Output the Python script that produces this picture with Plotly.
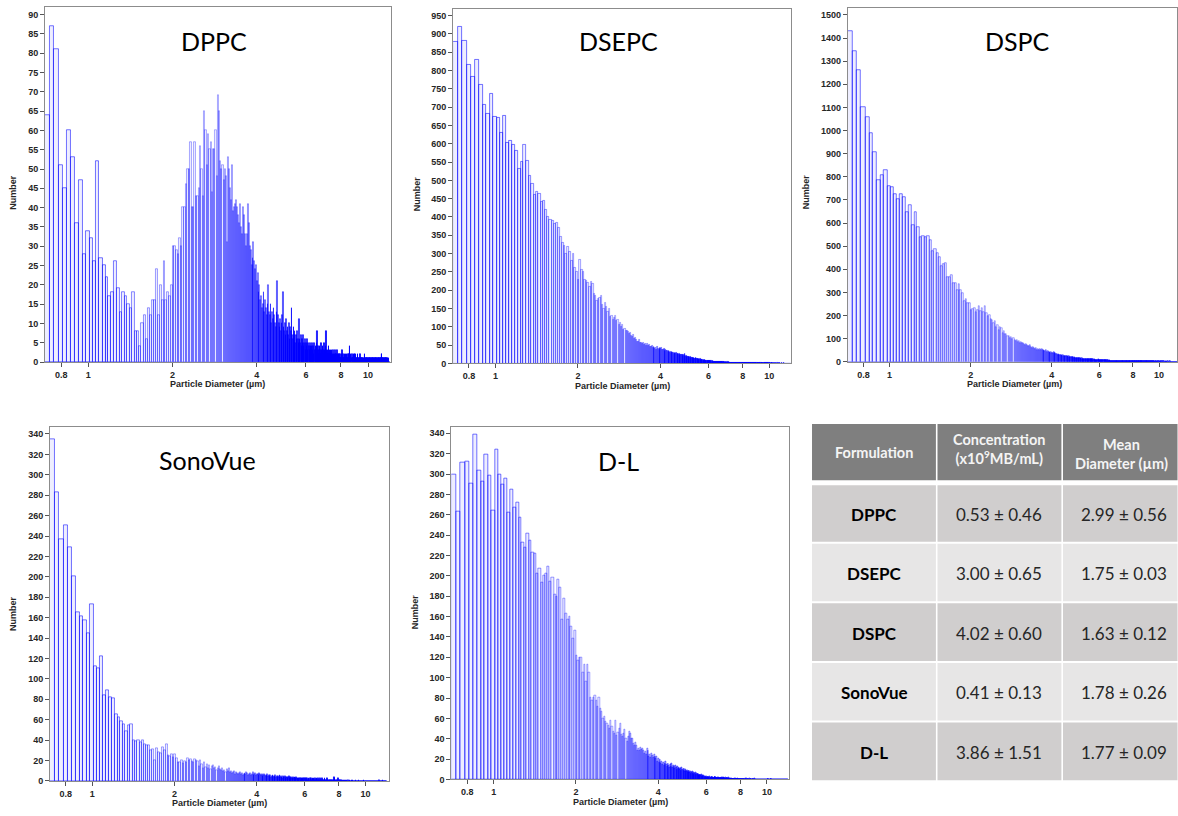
import math
import plotly.graph_objects as go

W, H = 1178, 816

# Coulter-counter style linear bins in particle diameter (µm)
BIN_START = 0.70
BIN_WIDTH = 0.02825

panel_names = ["DPPC", "DSEPC", "DSPC", "SonoVue", "D-L"]
x_tick_vals = [0.8, 1, 2, 4, 6, 8, 10]
x_tick_text = ["0.8", "1", "2", "4", "6", "8", "10"]

dppc_counts = [
    64, 87, 81, 51, 45, 60, 53, 36, 47, 28, 34, 32, 26, 52, 27, 25, 22, 17, 18, 26,
    19, 13, 18, 17, 15, 14, 18, 8, 8, 4, 10, 12, 6, 14, 12, 16, 16, 24, 12, 20,
    16, 26, 16, 18, 17, 20, 30, 30, 29, 28, 32, 30, 40, 40, 46, 50, 50, 57, 40, 40,
    57, 43, 43, 45, 56, 50, 43, 65, 60, 51, 59, 55, 57, 44, 55, 55, 60, 48, 69, 65,
    52, 50, 51, 47, 50, 48, 31, 53, 50, 45, 42, 51, 39, 40, 41, 42, 40, 38, 36, 41,
    35, 33, 40, 38, 33, 30, 33, 41, 36, 30, 29, 25, 27, 31, 26, 24, 25, 21, 23, 18,
    20, 16, 17, 14, 15, 18, 13, 16, 14, 12, 15, 20, 13, 12, 15, 10, 13, 11, 14, 12,
    10, 9, 13, 21, 12, 10, 9, 11, 8, 10, 12, 18, 9, 8, 10, 7, 11, 8, 9, 7,
    10, 6, 9, 8, 14, 7, 6, 9, 7, 8, 5, 7, 6, 8, 6, 5, 11, 6, 5, 7,
    4, 6, 5, 7, 4, 5, 6, 3, 5, 4, 6, 3, 5, 4, 3, 5, 4, 3, 4, 5,
    3, 4, 2, 5, 3, 4, 3, 5, 8, 3, 4, 2, 3, 4, 3, 2, 5, 3, 2, 4,
    3, 2, 5, 3, 2, 4, 8, 3, 2, 3, 2, 4, 2, 3, 2, 1, 3, 2, 3, 1,
    2, 3, 2, 1, 2, 3, 1, 2, 2, 1, 3, 2, 1, 2, 1, 2, 1, 2, 1, 1,
    2, 1, 3, 1, 2, 1, 1, 2, 1, 1, 2, 1, 0, 2, 1, 1, 2, 1, 1, 2,
    4, 1, 1, 2, 1, 0, 2, 1, 1, 1, 2, 1, 2, 2, 1, 0, 2, 1, 1, 1,
    1, 2, 1, 0, 1, 1, 1, 2, 1, 0, 1, 1, 1, 1, 0, 1, 1, 1, 0, 1,
    2, 1, 1, 0, 1, 1, 1, 1, 0, 1, 1, 1, 0, 1, 1, 1, 1, 0, 1, 1,
    1, 0, 1, 1, 1, 1, 0, 1, 1, 1, 0, 1, 1, 1, 1, 0, 1, 1, 1, 1,
    0, 1, 1, 1, 1, 1, 0, 1, 1, 1, 1, 2, 2, 1, 0, 1, 1, 1, 0, 1,
    1, 1, 0, 1, 1, 1, 0, 1, 0, 1, 1, 0, 0, 1, 0, 0, 1, 0, 0, 0,
]

dsepc_counts = [
    877, 920, 880, 815, 783, 828, 760, 707, 680, 735, 672, 670, 630, 675, 603, 607, 598, 580, 530, 550,
    597, 553, 513, 490, 460, 467, 463, 440, 443, 420, 400, 393, 390, 380, 385, 370, 345, 330, 320, 300,
    318, 305, 280, 300, 262, 250, 228, 282, 255, 250, 228, 225, 220, 210, 222, 218, 190, 185, 170, 175,
    180, 183, 160, 150, 165, 155, 140, 150, 128, 130, 120, 125, 130, 115, 118, 105, 110, 100, 104, 92,
    95, 88, 90, 85, 80, 83, 75, 72, 78, 68, 70, 65, 60, 58, 63, 55, 57, 52, 56, 50,
    54, 48, 52, 47, 50, 44, 46, 48, 42, 45, 40, 43, 38, 44, 40, 37, 42, 40, 42, 38,
    36, 39, 35, 37, 33, 34, 31, 35, 30, 32, 29, 31, 28, 30, 27, 29, 26, 28, 25, 26,
    24, 25, 23, 24, 22, 23, 21, 22, 20, 27, 19, 20, 18, 19, 17, 18, 16, 17, 15, 16,
    14, 15, 13, 14, 13, 12, 14, 11, 12, 11, 10, 12, 10, 11, 9, 10, 9, 10, 8, 9,
    8, 9, 7, 8, 7, 8, 7, 6, 7, 6, 7, 6, 5, 6, 5, 6, 5, 5, 4, 5,
    4, 5, 4, 4, 5, 4, 3, 4, 3, 4, 3, 3, 4, 3, 3, 2, 3, 3, 2, 3,
    2, 3, 2, 2, 3, 2, 2, 3, 2, 2, 2, 1, 2, 2, 1, 2, 2, 1, 2, 1,
    2, 1, 1, 2, 1, 1, 2, 1, 1, 1, 2, 1, 1, 1, 1, 2, 1, 1, 1, 1,
    1, 1, 2, 1, 1, 1, 1, 1, 1, 1, 1, 1, 1, 1, 1, 1, 2, 1, 1, 1,
    1, 1, 1, 0, 1, 1, 1, 1, 0, 1, 1, 1, 1, 1, 0, 1, 1, 1, 0, 1,
    1, 1, 0, 1, 1, 0, 1, 1, 1, 0, 1, 1, 0, 1, 0, 1, 1, 0, 1, 1,
    0, 1, 1, 0, 1, 0, 1, 1, 0, 1, 0, 1, 0, 1, 0, 0, 1, 0, 1, 0,
    0, 1, 0, 0, 1, 0, 0, 1, 0, 0, 1, 0, 0, 0, 1, 0, 0, 0, 1, 0,
    0, 0, 0, 1, 0, 0, 0, 0, 1, 0, 0, 0, 0, 0, 0, 1, 0, 0, 0, 0,
    0, 0, 0, 0, 0, 0, 0, 0, 0, 0, 0, 0, 0, 0, 0, 0, 0, 0, 0, 0,
]

dspc_counts = [
    1428, 1343, 1263, 1103, 1057, 988, 907, 785, 805, 830, 758, 755, 725, 705, 725, 712, 645, 677, 590, 645,
    580, 540, 545, 540, 545, 525, 480, 485, 470, 450, 415, 420, 425, 365, 365, 375, 340, 340, 310, 335,
    310, 295, 260, 270, 255, 255, 225, 228, 232, 215, 222, 238, 218, 232, 215, 239, 210, 195, 200, 185,
    180, 168, 175, 150, 160, 135, 148, 145, 125, 130, 120, 118, 110, 112, 100, 105, 98, 102, 95, 90,
    92, 85, 88, 80, 85, 78, 82, 75, 72, 76, 70, 68, 65, 70, 62, 60, 63, 58, 55, 60,
    52, 55, 50, 53, 48, 55, 50, 52, 47, 45, 48, 42, 44, 40, 42, 38, 40, 36, 38, 40,
    35, 37, 33, 34, 30, 32, 29, 30, 27, 28, 26, 27, 24, 25, 23, 24, 22, 23, 21, 22,
    20, 21, 19, 20, 18, 19, 17, 18, 17, 16, 17, 15, 16, 15, 14, 15, 14, 13, 14, 13,
    12, 13, 12, 11, 12, 11, 10, 11, 10, 11, 10, 9, 10, 9, 10, 9, 8, 9, 8, 9,
    8, 7, 8, 7, 8, 7, 10, 7, 6, 7, 6, 6, 7, 6, 5, 6, 5, 5, 6, 5,
    5, 4, 5, 4, 5, 4, 4, 5, 4, 4, 3, 4, 3, 4, 3, 3, 4, 3, 3, 4,
    3, 3, 2, 3, 3, 2, 3, 2, 2, 3, 2, 2, 2, 3, 2, 2, 1, 2, 2, 1,
    2, 1, 2, 1, 2, 1, 1, 2, 1, 1, 1, 2, 1, 1, 1, 1, 1, 2, 1, 1,
    1, 1, 1, 1, 2, 1, 1, 1, 1, 1, 1, 1, 1, 1, 1, 1, 1, 1, 2, 1,
    1, 1, 1, 1, 1, 0, 1, 1, 1, 1, 1, 0, 1, 1, 1, 1, 0, 1, 1, 1,
    1, 0, 1, 1, 0, 1, 1, 1, 0, 1, 1, 0, 1, 0, 1, 1, 0, 1, 0, 1,
    1, 0, 1, 0, 1, 0, 1, 0, 0, 1, 0, 1, 0, 0, 1, 0, 1, 0, 0, 1,
    0, 0, 1, 0, 0, 1, 0, 0, 0, 1, 0, 0, 0, 1, 0, 0, 0, 0, 1, 0,
    0, 0, 0, 0, 1, 0, 0, 0, 0, 0, 0, 0, 0, 0, 0, 0, 0, 0, 0, 0,
    0, 0, 0, 0, 0, 0, 0, 0, 0, 0, 0, 0, 0, 0, 0, 0, 0, 0, 0, 0,
]

sonovue_counts = [
    335, 283, 237, 250, 229, 200, 165, 161, 157, 145, 173, 112, 110, 122, 84, 89, 82, 81, 65, 62,
    58, 55, 49, 54, 55, 40, 39, 40, 38, 40, 36, 35, 35, 30, 31, 20, 32, 28, 27, 33,
    30, 36, 25, 24, 26, 23, 26, 22, 18, 18, 20, 17, 19, 18, 22, 20, 21, 19, 18, 21,
    20, 19, 14, 20, 16, 12, 18, 13, 16, 12, 15, 11, 14, 15, 12, 13, 10, 12, 14, 11,
    10, 12, 9, 10, 8, 11, 9, 12, 8, 9, 7, 8, 9, 6, 8, 7, 6, 7, 8, 6,
    7, 5, 6, 7, 6, 8, 7, 5, 6, 7, 5, 6, 8, 5, 6, 7, 5, 6, 6, 5,
    7, 6, 5, 6, 4, 5, 6, 5, 4, 5, 6, 4, 5, 4, 5, 3, 4, 5, 4, 3,
    4, 5, 3, 4, 3, 4, 3, 5, 3, 4, 3, 2, 4, 3, 3, 4, 2, 3, 3, 2,
    3, 4, 2, 3, 2, 3, 2, 2, 3, 2, 3, 2, 2, 3, 2, 2, 1, 2, 2, 2,
    1, 2, 2, 1, 2, 2, 1, 2, 2, 1, 2, 1, 2, 1, 1, 2, 1, 2, 1, 2,
    1, 1, 2, 1, 2, 1, 1, 2, 1, 1, 2, 1, 1, 2, 1, 1, 1, 2, 1, 1,
    1, 2, 1, 1, 1, 1, 2, 1, 1, 1, 1, 1, 2, 1, 1, 0, 1, 1, 1, 1,
    0, 1, 1, 1, 0, 1, 1, 3, 2, 1, 0, 1, 1, 0, 1, 1, 0, 2, 0, 1,
    1, 0, 1, 0, 1, 1, 0, 1, 0, 0, 1, 0, 1, 0, 0, 1, 0, 0, 1, 0,
    0, 0, 1, 0, 0, 0, 1, 0, 0, 0, 0, 1, 0, 0, 1, 0, 0, 0, 0, 0,
    0, 0, 1, 0, 0, 0, 0, 0, 0, 0, 1, 0, 0, 0, 0, 0, 0, 0, 0, 0,
    0, 0, 0, 0, 0, 1, 0, 0, 0, 0, 0, 0, 0, 0, 0, 0, 0, 0, 0, 0,
    0, 0, 0, 0, 0, 0, 0, 0, 0, 0, 0, 0, 0, 0, 0, 0, 0, 0, 0, 0,
    0, 0, 0, 0, 0, 0, 0, 0, 0, 0, 0, 0, 0, 1, 0, 0, 0, 0, 0, 0,
    0, 0, 0, 0, 0, 0, 1, 0, 0, 0, 0, 0, 0, 0, 0, 0, 0, 0, 0, 0,
]

dl_counts = [
    299, 263, 311, 312, 291, 339, 303, 292, 319, 298, 264, 324, 299, 290, 295, 262, 285, 267, 272, 257,
    233, 228, 241, 235, 223, 222, 202, 207, 193, 200, 202, 209, 194, 198, 182, 180, 196, 188, 157, 178,
    163, 157, 160, 150, 138, 146, 122, 117, 120, 120, 105, 113, 96, 113, 105, 80, 77, 80, 82, 77,
    72, 80, 70, 67, 60, 62, 57, 55, 53, 50, 58, 52, 47, 45, 58, 43, 46, 50, 55, 44,
    42, 45, 49, 40, 37, 42, 47, 45, 40, 40, 35, 33, 36, 33, 28, 30, 28, 31, 29, 30,
    28, 25, 27, 24, 30, 28, 22, 24, 21, 25, 23, 21, 24, 22, 20, 22, 18, 20, 17, 19,
    16, 18, 15, 17, 14, 16, 18, 15, 13, 16, 14, 12, 15, 13, 16, 12, 14, 13, 11, 14,
    12, 10, 13, 11, 12, 10, 11, 9, 12, 10, 9, 11, 8, 10, 9, 8, 9, 8, 7, 9,
    7, 8, 6, 7, 8, 6, 7, 5, 6, 7, 5, 6, 5, 6, 4, 5, 4, 5, 4, 5,
    3, 4, 3, 4, 3, 2, 3, 2, 3, 2, 2, 3, 2, 2, 3, 2, 2, 2, 3, 2,
    2, 1, 2, 2, 3, 2, 2, 1, 2, 2, 1, 2, 2, 1, 2, 1, 2, 2, 1, 2,
    1, 2, 2, 1, 1, 2, 1, 1, 2, 1, 1, 1, 2, 1, 1, 0, 1, 1, 1, 1,
    0, 1, 1, 0, 1, 1, 0, 1, 1, 0, 1, 0, 1, 1, 0, 1, 0, 1, 0, 0,
    1, 0, 0, 1, 0, 1, 0, 0, 1, 0, 0, 1, 0, 0, 1, 0, 0, 0, 1, 0,
    0, 1, 0, 0, 0, 1, 0, 0, 0, 0, 1, 0, 0, 0, 1, 0, 0, 0, 0, 0,
    0, 0, 0, 0, 0, 0, 0, 0, 0, 0, 0, 0, 0, 0, 0, 0, 0, 0, 0, 0,
    0, 0, 0, 0, 0, 0, 0, 0, 0, 0, 0, 0, 0, 1, 0, 0, 0, 0, 0, 0,
    0, 0, 0, 1, 0, 0, 0, 0, 0, 0, 0, 0, 0, 0, 0, 0, 0, 0, 0, 0,
    0, 0, 0, 0, 0, 0, 0, 0, 0, 0, 0, 0, 0, 0, 0, 0, 0, 0, 0, 0,
    0, 0, 0, 0, 0, 0, 0, 0, 0, 0, 0, 0, 0, 0, 0, 0, 0, 0, 0, 0,
]

# Summary table
table_header = ["Formulation", "Concentration<br>(x10<sup>9</sup>MB/mL)", "Mean<br>Diameter (µm)"]
table_formulation = ["DPPC", "DSEPC", "DSPC", "SonoVue", "D-L"]
conc_mean = [0.53, 3.00, 4.02, 0.41, 3.86]
conc_sd = [0.46, 0.65, 0.60, 0.13, 1.51]
diam_mean = [2.99, 1.75, 1.63, 1.78, 1.77]
diam_sd = [0.56, 0.03, 0.12, 0.26, 0.09]

# ---------------- styling / layout (pixel geometry) ----------------
FILL = "rgba(70,70,255,0.09)"
AXC = "#8c8c8c"
TICKFONT = dict(family="Liberation Sans, Arial, sans-serif", size=9, color="#262626", weight="bold")
LABFONT = dict(family="Liberation Sans, Arial, sans-serif", size=9, color="#262626", weight="bold")
TITLEFONT = dict(family="Lato, sans-serif", size=25, color="#000000")

panels = [
    dict(vals=dppc_counts, x0=45, x1=391, y0=7.3, y1=364.3, xmax=12.05, ymax=91.9, dtick=5,
         tx=214, ty=41.7, ylx=13, yly=193, xlx=218, xly=386.5),
    dict(vals=dsepc_counts, x0=453.5, x1=792, y0=9, y1=365.7, xmax=12.03, ymax=968, dtick=50,
         tx=619, ty=41.7, ylx=416.7, yly=195, xlx=623, xly=388),
    dict(vals=dspc_counts, x0=848.5, x1=1178, y0=8.3, y1=364, xmax=11.66, ymax=1529, dtick=100,
         tx=1018, ty=41.7, ylx=807, yly=193, xlx=1015.5, xly=386),
    dict(vals=sonovue_counts, x0=50, x1=389.3, y0=430, y1=785.7, xmax=12.2, ymax=346.5, dtick=20,
         tx=208, ty=463.3, ylx=13, yly=616.7, xlx=220, xly=807.7),
    dict(vals=dl_counts, x0=451.7, x1=790, y0=429.3, y1=784.3, xmax=12.08, ymax=346.5, dtick=20,
         tx=618.7, ty=464, ylx=415.7, yly=615.7, xlx=621, xly=807.3),
]


def px(x):
    return x / W


def py(y):
    return 1 - y / H


def edge_alpha(wpx):
    """Outline opacity as a function of the drawn bar width (emulates the
    anti-aliased look of the original instrument export)."""
    pts = [(0.0, 0.9), (0.5, 0.9), (0.62, 0.74), (0.9, 0.42), (1.2, 0.3),
           (2.0, 0.38), (3.0, 0.55), (100.0, 0.55)]
    for (w0, a0), (w1, a1) in zip(pts[:-1], pts[1:]):
        if w0 <= wpx <= w1:
            return a0 + (wpx - w0) / (w1 - w0) * (a1 - a0)
    return 0.55


fig = go.Figure()
layout = dict(width=W, height=H, margin=dict(l=0, r=0, t=0, b=0),
              paper_bgcolor="white", plot_bgcolor="white",
              bargap=0, barmode="overlay", showlegend=False)
annotations = []
shapes = []

for k, (name, p) in enumerate(zip(panel_names, panels), start=1):
    sfx = "" if k == 1 else str(k)
    vals = p["vals"]
    lows = [BIN_START + BIN_WIDTH * i for i in range(len(vals))]
    centers = [lo + BIN_WIDTH / 2 for lo in lows]
    px_per_decade = (p["x1"] - p["x0"]) / (math.log10(p["xmax"]) - math.log10(BIN_START))
    edge_colors = []
    for lo in lows:
        wpx = px_per_decade * math.log10((lo + BIN_WIDTH) / lo)
        edge_colors.append(f"rgba(0,0,255,{edge_alpha(wpx):.3f})")
    fig.add_trace(go.Bar(
        x=centers, y=vals, width=[BIN_WIDTH] * len(vals),
        marker=dict(color=FILL, line=dict(color=edge_colors, width=1)),
        xaxis="x" + sfx, yaxis="y" + sfx, hoverinfo="skip", name=name,
    ))
    layout["xaxis" + sfx] = dict(
        type="log", domain=[px(p["x0"]), px(p["x1"])],
        range=[math.log10(BIN_START), math.log10(p["xmax"])],
        anchor="y" + sfx, tickmode="array", tickvals=x_tick_vals, ticktext=x_tick_text,
        ticks="outside", ticklen=4, tickwidth=1, tickcolor="#555555",
        showline=True, linecolor=AXC, linewidth=1, mirror=True,
        showgrid=False, zeroline=False, tickfont=TICKFONT, fixedrange=True,
    )
    layout["yaxis" + sfx] = dict(
        domain=[py(p["y1"]), py(p["y0"])], range=[0, p["ymax"]],
        anchor="x" + sfx, tick0=0, dtick=p["dtick"],
        ticks="outside", ticklen=4, tickwidth=1, tickcolor="#555555",
        showline=True, linecolor=AXC, linewidth=1, mirror=True,
        showgrid=False, zeroline=False, tickfont=TICKFONT, fixedrange=True,
    )
    annotations.append(dict(text=name, x=px(p["tx"]), y=py(p["ty"]), xref="paper", yref="paper",
                            showarrow=False, font=TITLEFONT, xanchor="center", yanchor="middle"))
    annotations.append(dict(text="Particle Diameter (µm)", x=px(p["xlx"]), y=py(p["xly"]),
                            xref="paper", yref="paper", showarrow=False, font=LABFONT,
                            xanchor="center", yanchor="middle"))
    annotations.append(dict(text="Number", x=px(p["ylx"]), y=py(p["yly"]), textangle=-90,
                            xref="paper", yref="paper", showarrow=False, font=LABFONT,
                            xanchor="center", yanchor="middle"))

# ---------------- table drawn with shapes + annotations ----------------
col_edges = [812.7, 936.7, 1062.3, 1178.5]
header_rows = (426.7, 483.3)
body_rows = [(488.3, 545.0), (547.0, 605.0), (607.0, 665.0), (667.0, 725.0), (727.0, 785.0)]
row_fill = ["#d0cece", "#e7e6e6", "#d0cece", "#e7e6e6", "#d0cece"]
GAP = 1.6

for c in range(3):
    xa = col_edges[c] + (GAP if c > 0 else 0)
    xb = col_edges[c + 1]
    shapes.append(dict(type="rect", xref="paper", yref="paper", x0=px(xa), x1=px(xb),
                       y0=py(header_rows[1]), y1=py(header_rows[0]),
                       fillcolor="#7f7f7f", line=dict(width=0), layer="below"))
    for r, (ya, yb) in enumerate(body_rows):
        shapes.append(dict(type="rect", xref="paper", yref="paper", x0=px(xa), x1=px(xb),
                           y0=py(yb), y1=py(ya), fillcolor=row_fill[r],
                           line=dict(width=0), layer="below"))

header_x = [874.7, 999.5, 1122]
header_y = [455, 452, 457]
for c in range(3):
    annotations.append(dict(text=table_header[c], x=px(header_x[c]), y=py(header_y[c]),
                            xref="paper", yref="paper", showarrow=False,
                            font=dict(family="Lato, sans-serif", size=14.5, color="#f4f4f4", weight="bold"),
                            xanchor="center", yanchor="middle", align="center"))

body_x = [875, 1000, 1125]
for r, (ya, yb) in enumerate(body_rows):
    yc = (ya + yb) / 2 + 1
    cells = [table_formulation[r],
             f"{conc_mean[r]:.2f} ± {conc_sd[r]:.2f}",
             f"{diam_mean[r]:.2f} ± {diam_sd[r]:.2f}"]
    for c in range(3):
        font = dict(family="Lato, sans-serif", size=17,
                    color="#000000" if c == 0 else "#262626",
                    weight="bold" if c == 0 else "normal")
        annotations.append(dict(text=cells[c], x=px(body_x[c]), y=py(yc), xref="paper", yref="paper",
                                showarrow=False, font=font, xanchor="center", yanchor="middle"))

layout["annotations"] = annotations
layout["shapes"] = shapes
fig.update_layout(**layout)
fig.write_html("out.html")
